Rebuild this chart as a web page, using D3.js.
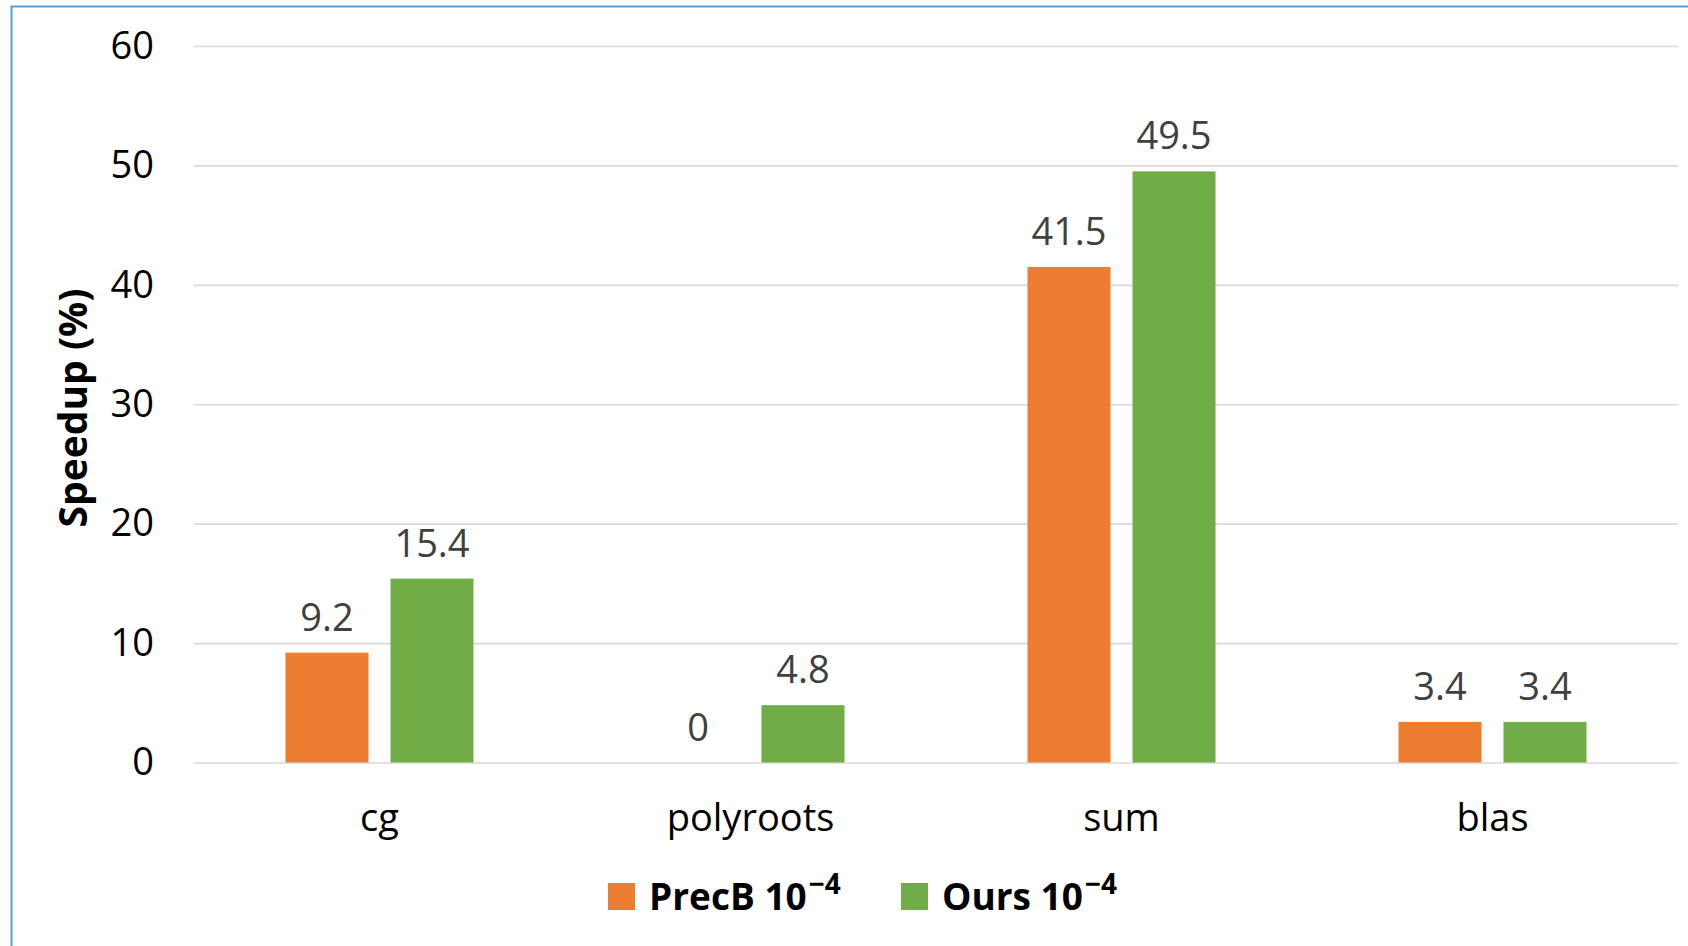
<!DOCTYPE html>
<meta charset="utf-8">
<style>
body {
  margin: 0;
  background: #fff;
  font-family: 'Open Sans', sans-serif;
}
svg { display: block; }
.grid line { stroke: #d9d9d9; stroke-width: 1.6px; }
.grid text { fill: #000; font-size: 38px; }
.cats text { fill: #000; font-size: 38px; }
.vals text { fill: #404040; font-size: 38px; }
</style>
<svg width="1688" height="946"></svg>
<script src="https://d3js.org/d3.v7.min.js"></script>
<script>
var categories = ["cg", "polyroots", "sum", "blas"];
var seriesNames = ["PrecB", "Ours"];
var precB = [9.2, 0, 41.5, 3.4];
var ours = [15.4, 4.8, 49.5, 3.4];
var yTicks = [0, 10, 20, 30, 40, 50, 60];
var colors = ["#ed7d31", "#70ad47"];

var svg = d3.select("svg");

// outer frame (only top and left edges are visible in the shot)
svg.append("rect")
    .attr("x", 11.5).attr("y", 6.5)
    .attr("width", 1800).attr("height", 1000)
    .attr("fill", "none")
    .attr("stroke", "#5b9bd5")
    .attr("stroke-width", 2);

var plotL = 194, plotR = 1678, plotT = 46, plotB = 762.5;

var x = d3.scaleBand().domain(categories).range([plotL, plotR]);
var y = d3.scaleLinear().domain([0, 60]).range([plotB, plotT]);

// inner scale for the two bars of one category
var x1 = d3.scaleBand().domain(seriesNames).range([-94, 94]).paddingInner(22 / 105);

var grid = svg.append("g")
    .attr("class", "grid")
    .attr("transform", "translate(" + plotL + ",0)")
    .call(d3.axisLeft(y).tickValues(yTicks).tickSize(-(plotR - plotL)).tickPadding(40));
grid.select(".domain").remove();
grid.selectAll("text").attr("font-family", "'Open Sans', sans-serif");

var cats = svg.append("g")
    .attr("class", "cats")
    .attr("transform", "translate(0," + plotB + ")")
    .call(d3.axisBottom(x).tickSize(0));
cats.select(".domain").remove();
cats.selectAll("text")
    .attr("font-family", "'Open Sans', sans-serif")
    .attr("y", 68.5)
    .attr("dy", null);

var rows = categories.map(function(c, i) {
  return [{cat: c, s: "PrecB", v: precB[i], k: 0}, {cat: c, s: "Ours", v: ours[i], k: 1}];
});
var flat = [].concat.apply([], rows);

svg.append("g").selectAll("rect")
    .data(flat.filter(function(d) { return d.v > 0; }))
    .enter().append("rect")
      .attr("x", function(d) { return x(d.cat) + x.bandwidth() / 2 + x1(d.s); })
      .attr("width", x1.bandwidth())
      .attr("y", function(d) { return y(d.v); })
      .attr("height", function(d) { return y(0) - y(d.v); })
      .attr("fill", function(d) { return colors[d.k]; });

svg.append("g")
    .attr("class", "vals")
    .selectAll("text")
    .data(flat)
    .enter().append("text")
      .attr("x", function(d) { return x(d.cat) + x.bandwidth() / 2 + x1(d.s) + x1.bandwidth() / 2; })
      .attr("y", function(d) { return y(d.v) - 22; })
      .attr("text-anchor", "middle")
      .text(function(d) { return d.v; });

// y axis title
svg.append("text")
    .attr("transform", "translate(87,408) rotate(-90)")
    .attr("text-anchor", "middle")
    .attr("font-size", 39)
    .attr("font-weight", "bold")
    .attr("fill", "#000")
    .text("Speedup (%)");

// legend
var legend = svg.append("g");
var legX = [608, 901];
seriesNames.forEach(function(name, i) {
  legend.append("rect")
      .attr("x", legX[i]).attr("y", 883)
      .attr("width", 27).attr("height", 27)
      .attr("fill", colors[i]);
  var t = legend.append("text")
      .attr("x", legX[i] + 41).attr("y", 910)
      .attr("font-size", 37)
      .attr("font-weight", "bold")
      .attr("fill", "#000");
  t.append("tspan").text(name + " 10");
  t.append("tspan").attr("dx", 2).attr("dy", -16).attr("font-size", 28).text("\u22124");
});
</script>
